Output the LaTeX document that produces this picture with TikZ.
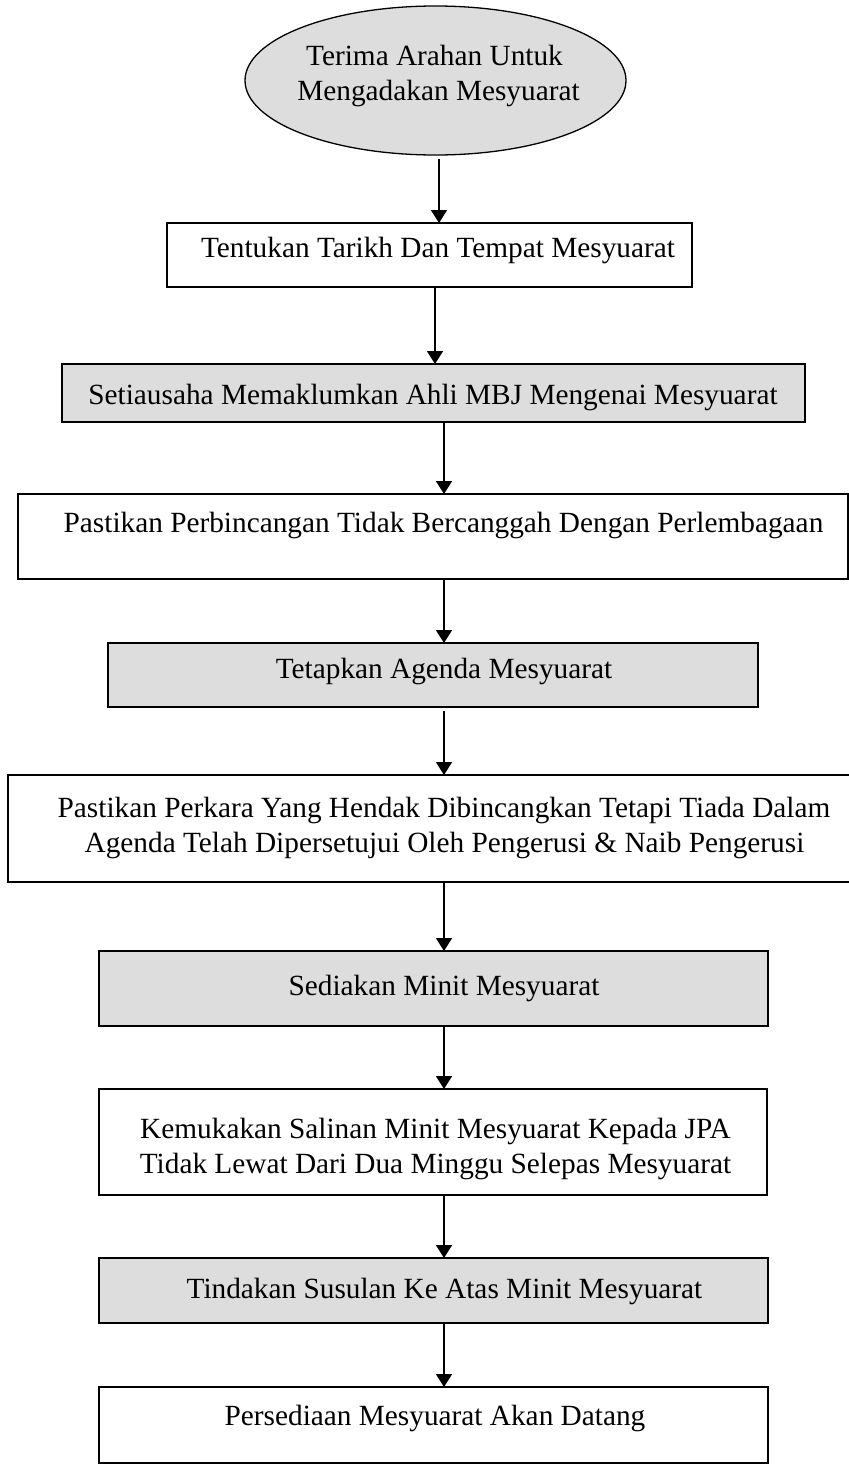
\documentclass[tikz,border=0pt]{standalone}
\usepackage{fontspec}
\setmainfont{Liberation Serif}
\usetikzlibrary{arrows.meta,shapes.geometric}
\definecolor{boxgray}{RGB}{221,221,221}
\newcommand{\tf}{\fontsize{29.3}{35}\selectfont}
\tikzset{
  box/.style={draw, line width=1.8pt, inner sep=0pt, outer sep=0pt},
  gbox/.style={box, fill=boxgray},
  txt/.style={font=\tf, inner sep=0pt, anchor=base},
  arr/.style={line width=1.7pt, -{Triangle[width=16pt,length=13pt]}}
}
\begin{document}
\begin{tikzpicture}[x=1pt,y=-1pt]
\useasboundingbox (0,0) rectangle (849,1465);
% shapes
\node[ellipse, draw, line width=1.3pt, fill=boxgray, inner sep=0pt, outer sep=0pt,
      minimum width=381pt, minimum height=149pt] (e) at (435.5,80.5) {};
\node[box,  minimum width=525pt, minimum height=64pt] (b2) at (429.5,255) {};
\node[gbox, minimum width=743pt, minimum height=58pt] (b3) at (433.5,393) {};
\node[box,  minimum width=830pt, minimum height=85pt] (b4) at (433,536.5) {};
\node[gbox, minimum width=650pt, minimum height=64pt] (b5) at (433,675) {};
\node[box,  minimum width=844pt, minimum height=107pt] (b6) at (430,828.5) {};
\node[gbox, minimum width=669pt, minimum height=75pt] (b7) at (433.5,988.5) {};
\node[box,  minimum width=668pt, minimum height=106pt] (b8) at (433,1142) {};
\node[gbox, minimum width=669pt, minimum height=65pt] (b9) at (433.5,1290.5) {};
\node[box,  minimum width=669pt, minimum height=76pt] (b10) at (433.5,1425) {};
% texts
\node[txt] (t1a) at (434.5,65) {Terima Arahan Untuk};
\node[txt] (t1b) at (438.5,100) {Mengadakan Mesyuarat};
\node[txt] (t2) at (438,257) {Tentukan Tarikh Dan Tempat Mesyuarat};
\node[txt] (t3) at (433,404) {Setiausaha Memaklumkan Ahli MBJ Mengenai Mesyuarat};
\node[txt] (t4) at (443.5,532) {Pastikan Perbincangan Tidak Bercanggah Dengan Perlembagaan};
\node[txt] (t5) at (444,678) {Tetapkan Agenda Mesyuarat};
\node[txt] (t6a) at (444,817) {Pastikan Perkara Yang Hendak Dibincangkan Tetapi Tiada Dalam};
\node[txt] (t6b) at (444.5,852) {Agenda Telah Dipersetujui Oleh Pengerusi \& Naib Pengerusi};
\node[txt] (t7) at (444,995) {Sediakan Minit Mesyuarat};
\node[txt] (t8a) at (435.5,1138) {Kemukakan Salinan Minit Mesyuarat Kepada JPA};
\node[txt] (t8b) at (435.5,1173) {Tidak Lewat Dari Dua Minggu Selepas Mesyuarat};
\node[txt] (t9) at (444.5,1298) {Tindakan Susulan Ke Atas Minit Mesyuarat};
\node[txt] (t10) at (435,1425) {Persediaan Mesyuarat Akan Datang};
% arrow columns
\coordinate (xa) at (439,0);
\coordinate (xb) at (435,0);
\coordinate (xc) at (444,0);
% connectors
\draw[arr, shorten <=4pt] (e.south -| xa) -- (b2.north -| xa);
\draw[arr] (b2.south -| xb) -- (b3.north -| xb);
\draw[arr] (b3.south -| xc) -- (b4.north -| xc);
\draw[arr] (b4.south -| xc) -- (b5.north -| xc);
\draw[arr, shorten <=4pt] (b5.south -| xc) -- (b6.north -| xc);
\draw[arr] (b6.south -| xc) -- (b7.north -| xc);
\draw[arr] (b7.south -| xc) -- (b8.north -| xc);
\draw[arr] (b8.south -| xc) -- (b9.north -| xc);
\draw[arr] (b9.south -| xc) -- (b10.north -| xc);
\end{tikzpicture}
\end{document}
